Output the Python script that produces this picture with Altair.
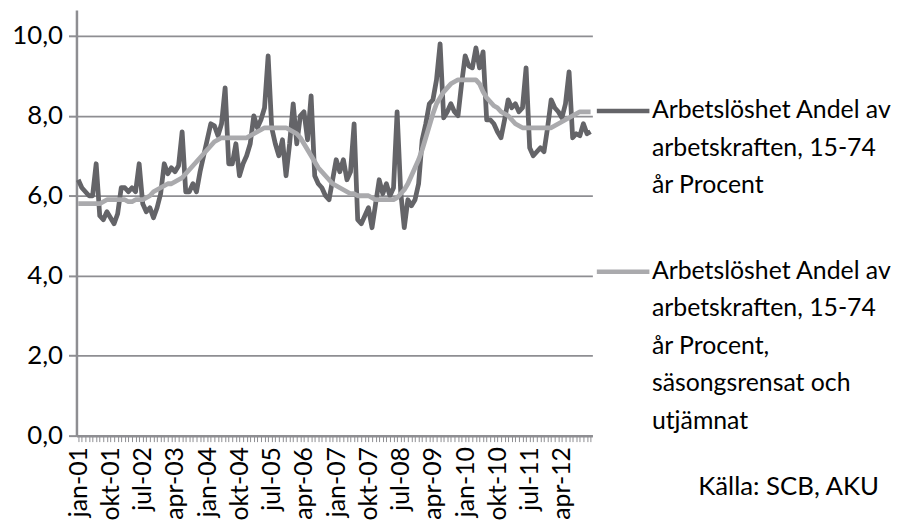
import altair as alt
import pandas as pd

months = ["jan", "feb", "mar", "apr", "maj", "jun", "jul", "aug", "sep", "okt", "nov", "dec"]
years = ["01", "02", "03", "04", "05", "06", "07", "08", "09", "10", "11", "12"]
labels = [f"{m}-{y}" for y in years for m in months]
shown = labels[::9]

dark = [
    6.4, 6.2, 6.1, 6.0, 6.0, 6.8, 5.5, 5.4, 5.6, 5.45, 5.3, 5.55,
    6.2, 6.2, 6.1, 6.2, 6.1, 6.8, 5.8, 5.6, 5.7, 5.45, 5.7, 6.05,
    6.8, 6.55, 6.7, 6.6, 6.75, 7.6, 6.1, 6.1, 6.3, 6.1, 6.6, 7.0,
    7.4, 7.8, 7.75, 7.5, 7.8, 8.7, 6.8, 6.8, 7.3, 6.5, 6.8, 7.0,
    7.3, 8.0, 7.7, 7.9, 8.2, 9.5, 7.7, 7.3, 7.0, 7.4, 6.5, 7.3,
    8.3, 7.3, 8.0, 8.1, 7.4, 8.5, 6.5, 6.3, 6.2, 6.0, 5.9, 6.4,
    6.9, 6.6, 6.9, 6.4, 6.6, 7.8, 5.4, 5.3, 5.5, 5.7, 5.2, 5.8,
    6.4, 6.05, 6.3, 6.0, 6.2, 8.1, 6.1, 5.2, 5.9, 5.75, 5.9, 6.3,
    7.4, 7.8, 8.3, 8.4, 8.9, 9.8, 7.95, 8.1, 8.3, 8.1, 8.0, 8.8,
    9.5, 9.25, 9.2, 9.7, 9.2, 9.6, 7.9, 7.9, 7.8, 7.6, 7.45, 7.9,
    8.4, 8.2, 8.3, 8.1, 8.2, 9.2, 7.2, 7.0, 7.1, 7.2, 7.1, 7.7,
    8.4, 8.2, 8.1, 7.95, 8.3, 9.1, 7.45, 7.55, 7.5, 7.8, 7.55, 7.6,
]

light = [
    5.8, 5.8, 5.8, 5.8, 5.8, 5.8, 5.8, 5.85, 5.9, 5.9, 5.9, 5.9,
    5.9, 5.9, 5.85, 5.85, 5.9, 5.9, 5.9, 5.95, 6.0, 6.1, 6.15, 6.2,
    6.25, 6.3, 6.3, 6.35, 6.4, 6.45, 6.55, 6.65, 6.75, 6.85, 6.95, 7.05,
    7.15, 7.25, 7.35, 7.4, 7.45, 7.45, 7.45, 7.45, 7.45, 7.45, 7.45, 7.45,
    7.5, 7.55, 7.6, 7.65, 7.7, 7.7, 7.7, 7.7, 7.7, 7.7, 7.7, 7.65,
    7.6, 7.55, 7.45, 7.3, 7.15, 7.0, 6.85, 6.7, 6.6, 6.5, 6.4, 6.3,
    6.25, 6.2, 6.15, 6.1, 6.05, 6.05, 6.0, 6.0, 6.0, 6.0, 5.95, 5.9,
    5.9, 5.9, 5.9, 5.9, 5.9, 5.95, 6.05, 6.15, 6.3, 6.5, 6.7, 6.9,
    7.15, 7.45, 7.75, 8.05, 8.3, 8.45, 8.6, 8.7, 8.8, 8.85, 8.9, 8.9,
    8.9, 8.9, 8.9, 8.9, 8.8, 8.6, 8.45, 8.35, 8.25, 8.2, 8.1, 8.05,
    8.0, 7.9, 7.8, 7.75, 7.7, 7.7, 7.7, 7.7, 7.7, 7.7, 7.7, 7.7,
    7.7, 7.75, 7.8, 7.85, 7.9, 7.95, 8.0, 8.05, 8.1, 8.1, 8.1, 8.1,
]

s1 = "Arbetslöshet Andel av arbetskraften, 15-74 år Procent"
s2 = "Arbetslöshet Andel av arbetskraften, 15-74 år Procent, säsongsrensat och utjämnat"
s1_lines = ["Arbetslöshet Andel av", "arbetskraften, 15-74", "år Procent"]
s2_lines = ["Arbetslöshet Andel av", "arbetskraften, 15-74", "år Procent,", "säsongsrensat och", "utjämnat"]
series = [s1, s2]
colors = ["#646468", "#aaaaad"]
source = "Källa: SCB, AKU"

df = pd.DataFrame({
    "month": labels + labels,
    "value": dark + light,
    "series": [s1] * len(dark) + [s2] * len(light),
})


def js_arr(items):
    return "[" + ",".join("'" + s + "'" for s in items) + "]"


x_label_expr = f"indexof({js_arr(shown)}, datum.value) >= 0 ? datum.value : ''"
legend_expr = f"datum.value == '{s1}' ? {js_arr(s1_lines)} : {js_arr(s2_lines)}"

FONT = "Lato"
GRID = "#8e8e92"

x_enc = alt.X(
    "month:N", sort=labels, title=None,
    axis=alt.Axis(
        labelExpr=x_label_expr, labelAngle=270, labelOverlap=False,
        labelFont=FONT, labelFontSize=25, labelColor="#000000", labelPadding=5,
        tickSize=6, tickColor=GRID, tickWidth=1,
        domainColor=GRID, domainWidth=2.5, grid=False,
    ),
)
y_enc = alt.Y(
    "value:Q", title=None,
    scale=alt.Scale(domain=[0, 10.645], nice=False, zero=True),
    axis=alt.Axis(
        values=[0, 2, 4, 6, 8, 10],
        labelExpr="replace(format(datum.value, '.1f'), '.', ',')",
        labelFont=FONT, labelFontSize=26, labelColor="#000000", labelPadding=6,
        tickSize=8, tickColor=GRID, tickWidth=2,
        domainColor=GRID, domainWidth=2.5,
        grid=True, gridColor=GRID, gridWidth=1.8,
    ),
)
color_enc = alt.Color(
    "series:N",
    scale=alt.Scale(domain=series, range=colors),
    legend=alt.Legend(
        orient="none", legendX=522, legendY=80, title=None, padding=0,
        symbolType="M-1,-0.27L1,-0.27", symbolSize=2809, symbolStrokeWidth=4.5,
        labelExpr=legend_expr, labelFont=FONT, labelFontSize=25, labelColor="#000000",
        labelBaseline="alphabetic", labelLimit=400, labelOffset=0, rowPadding=52,
    ),
)

base = alt.Chart(df)
line_dark = base.transform_filter(alt.datum.series == s1).mark_line(
    strokeWidth=4.8, strokeJoin="round"
).encode(x=x_enc, y=y_enc, color=color_enc)
line_light = base.transform_filter(alt.datum.series == s2).mark_line(
    strokeWidth=4.8, strokeJoin="round"
).encode(x=x_enc, y=y_enc, color=color_enc)

chart = alt.layer(line_dark, line_light).properties(
    width=520, height=429,
    autosize="none",
    padding={"left": 69, "top": 0, "right": 301, "bottom": 85},
    title=alt.TitleParams(
        source, orient="bottom", anchor="end", frame="group",
        font=FONT, fontSize=26, fontWeight="normal", color="#000000",
        dx=289, dy=-50,
    ),
).configure(
    style={"guide-label": {"lineHeight": 37.8}}
).configure_view(stroke="transparent", strokeWidth=0)

chart.save("out.html", embed_options={"renderer": "svg", "actions": False})
